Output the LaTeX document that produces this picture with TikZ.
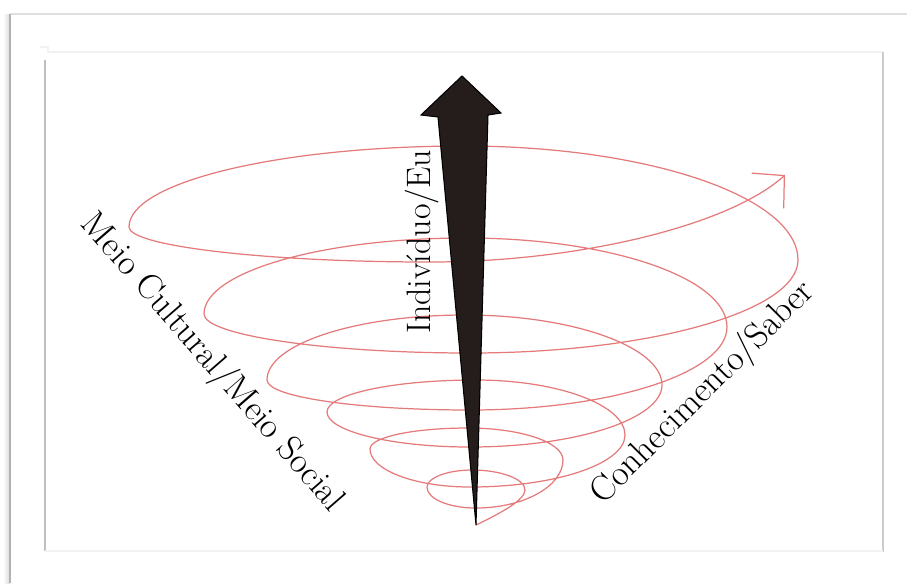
\documentclass[tikz,border=0pt]{standalone}
\usepackage{fontspec}
\usepackage{tikz}
\usetikzlibrary{arrows.meta}
\definecolor{espiralcor}{RGB}{228,122,122}
\definecolor{setacor}{RGB}{36,29,27}

\begin{document}
\begin{tikzpicture}[x=0.02cm,y=-0.02cm,
    espiral/.style={draw=espiralcor, line width=0.7pt},
    rotulo/.style={inner sep=0pt, font=\fontsize{20.3}{24}\selectfont}]
  \useasboundingbox (0,0) rectangle (907,583);
  % moldura
  \shade[left color=white, right color=gray!30] (3,14) rectangle (10,583);
  \draw[gray!25, line width=0.8pt] (10,14) -- (907,14);
  \draw[gray!60, line width=1.2pt] (10,583) -- (10,14);
  \draw[gray!10, line width=0.8pt] (40,47) -- (48,47) -- (48,52) -- (883,52);
  \draw[gray!50, line width=1pt] (45,60) -- (45,551);
  \draw[gray!40, line width=1pt] (883,52) -- (883,552);
  \draw[gray!10, line width=0.8pt] (45,551) -- (883,551);
  % espiral
  \draw[espiral, -{Straight Barb[length=0.45cm,width=0.95cm]}]
    (476,525) .. controls +(25,-12) and +(0,10) .. (525,490)
    .. controls +(0,-11) and +(29,0) .. (472,470)
    .. controls +(-25,0) and +(0,-9) .. (427,487)
    .. controls +(0,12) and +(-27,0) .. (476,508)
    .. controls +(48,0) and +(0,26) .. (563,460)
    .. controls +(0,-18) and +(52,0) .. (468,428)
    .. controls +(-54,0) and +(0,-12) .. (370,449)
    .. controls +(0,21) and +(-55,0) .. (470,487)
    .. controls +(85,0) and +(0,29) .. (625,435)
    .. controls +(0,-30) and +(82,0) .. (476,380)
    .. controls +(-82,0) and +(0,-18) .. (327,412)
    .. controls +(0,19) and +(-79,0) .. (470,447)
    .. controls +(106,0) and +(0,34) .. (662,385)
    .. controls +(0,-38) and +(108,0) .. (465,315)
    .. controls +(-109,0) and +(0,-36) .. (267,380)
    .. controls +(0,17) and +(-112,0) .. (470,410)
    .. controls +(141,0) and +(0,46) .. (727,327)
    .. controls +(0,-49) and +(144,0) .. (466,238)
    .. controls +(-144,0) and +(0,-42) .. (204,314)
    .. controls +(0,21) and +(-146,0) .. (470,353)
    .. controls +(180,0) and +(0,51) .. (798,260)
    .. controls +(0,-63) and +(184,0) .. (464,146)
    .. controls +(-184,0) and +(0,-45) .. (129,227)
    .. controls +(0,19) and +(-165,0) .. (430,262)
    .. controls +(150,0) and +(-55,50) .. (785,175);
  % seta
  \filldraw[fill=setacor, draw=black, line width=0.6pt]
    (462,76) -- (501,113) -- (488,115) -- (476,525) -- (438,117) -- (421,115) -- cycle;
  % rotulos
  \node[rotulo, rotate=90, font=\fontsize{19.3}{23}\selectfont] (indiv) at (422,242) {Indivíduo/Eu};
  \node[rotulo, rotate=-49] (meio) at (212,363) {Meio Cultural/Meio Social};
  \node[rotulo, rotate=45] (saber) at (703,393) {Conhecimento/Saber};
\end{tikzpicture}
\end{document}
